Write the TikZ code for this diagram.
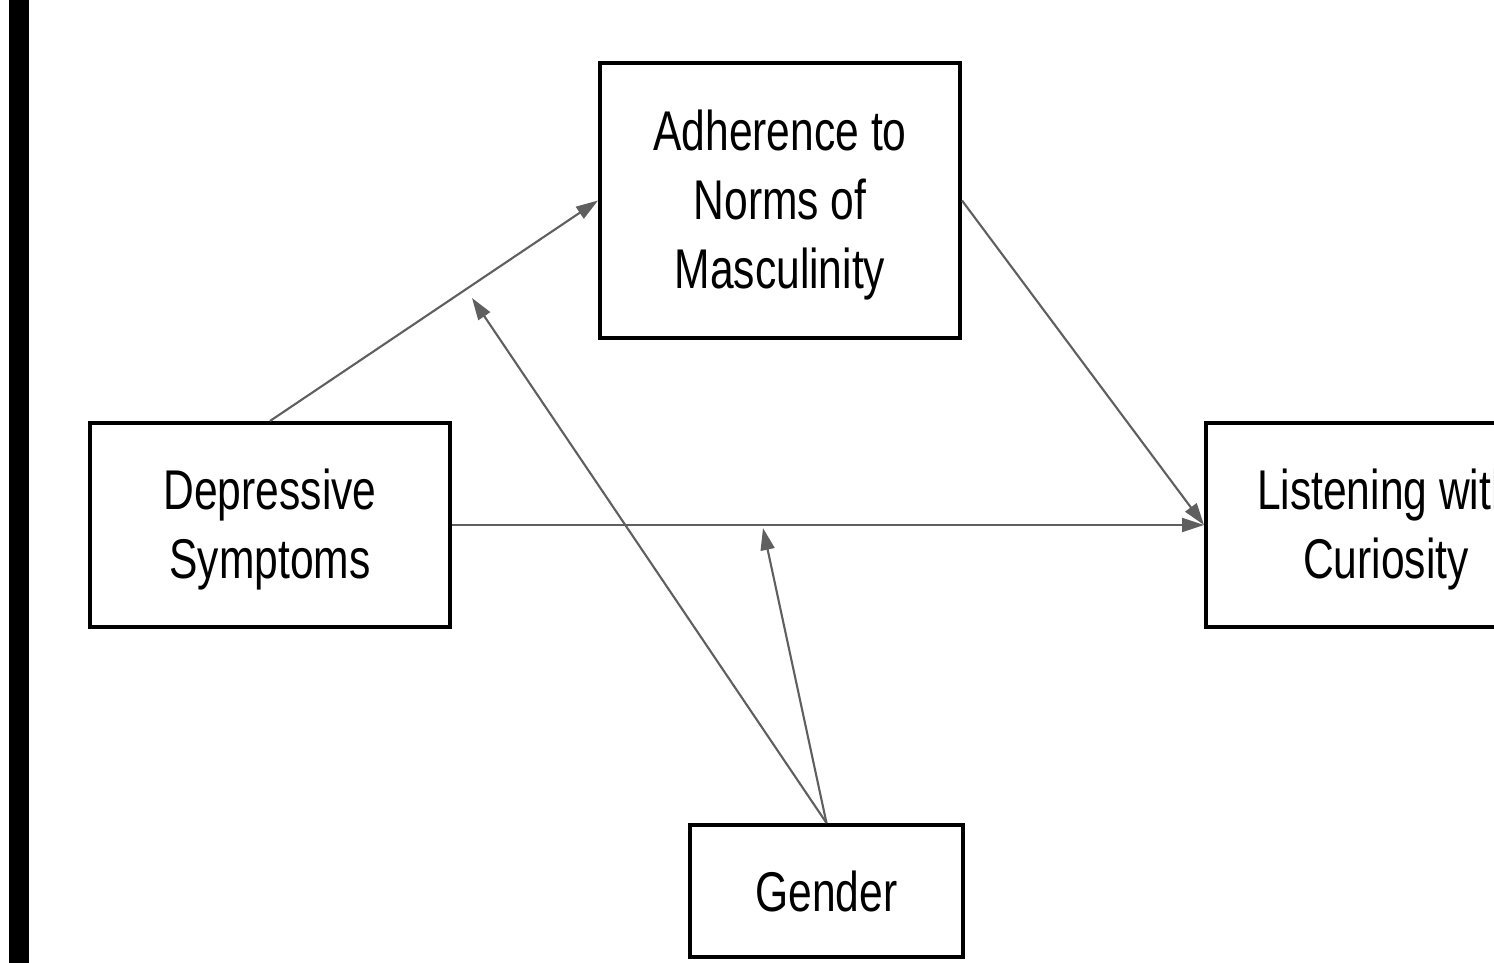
\documentclass[tikz,border=0pt]{standalone}
\usepackage{fontspec}
\setmainfont{Liberation Sans}[FakeStretch=0.76]
\usetikzlibrary{arrows.meta}
\definecolor{linegray}{RGB}{95,95,95}
\newcommand{\mystrut}{\rule{0pt}{25pt}}
\begin{document}
\begin{tikzpicture}[x=0.5pt,y=-0.5pt,
  varbox/.style={draw=black, line width=2pt, inner sep=0pt, align=center,
    font=\fontsize{28pt}{34.5pt}\selectfont, text=black},
  conn/.style={draw=linegray, line width=1.05pt,
    -{Triangle[length=11pt,width=7pt]}, color=linegray}]
\useasboundingbox (0,0) rectangle (1494,963);
\clip (0,0) rectangle (1494,963);
\fill[white] (0,0) rectangle (1494,963);
\fill[black] (9,0) rectangle (29,963);
\node[varbox, minimum width=180pt, minimum height=137.5pt] (adh) at (780,200.5)
  {\mystrut Adherence to\\Norms of\\Masculinity};
\node[varbox, minimum width=180pt, minimum height=102pt] (dep) at (270,525)
  {\mystrut Depressive\\Symptoms};
\node[varbox, minimum width=180pt, minimum height=102pt] (lis) at (1386,525)
  {\mystrut Listening with\\Curiosity};
\node[varbox, minimum width=136.5pt, minimum height=66pt] (gen) at (826.5,891)
  {Gender};
\coordinate (m1) at (472,298);
\coordinate (m2) at (763,528);
\draw[conn] (dep.north) -- (adh.west);
\draw[conn] (adh.east) -- (lis.west);
\draw[conn] (dep.east) -- (lis.west);
\draw[conn] (gen.north) -- (m1);
\draw[conn] (gen.north) -- (m2);
\end{tikzpicture}
\end{document}
